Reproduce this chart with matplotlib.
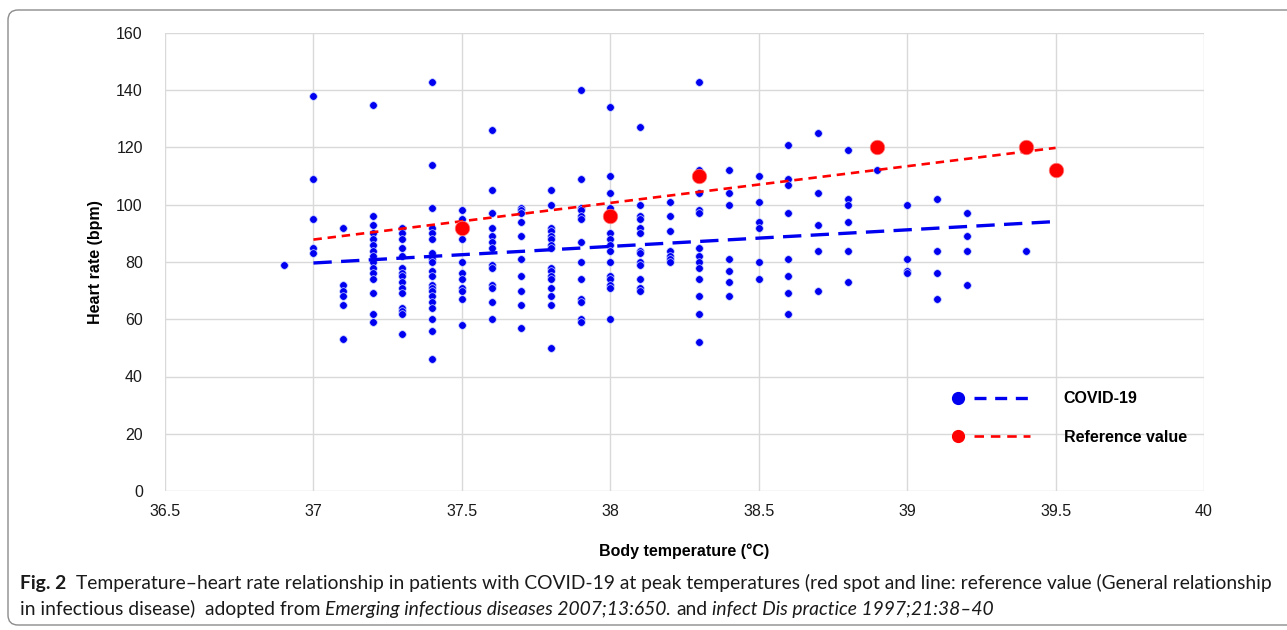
import numpy as np
import matplotlib
matplotlib.use('Agg')
import matplotlib.pyplot as plt
from matplotlib.legend_handler import HandlerBase
from matplotlib.lines import Line2D
from matplotlib.patches import FancyBboxPatch
from matplotlib.transforms import IdentityTransform


# COVID-19 patients, heart rate (bpm) at peak temperature, one list per temperature
hr_36_9 = [79]
hr_37_0 = [138, 109, 95, 85, 83]
hr_37_1 = [92, 72, 70, 68, 65, 53]
hr_37_2 = [135, 96, 93, 90, 88, 86, 84, 82, 80, 78, 76, 74, 69, 62, 59]
hr_37_3 = [92, 90, 88, 85, 82, 78, 76, 75, 73, 71, 69, 64, 63, 62, 55]
hr_37_4 = [143, 114, 99, 92, 90, 88, 83, 81, 80, 77, 75, 72, 71, 70, 68, 66, 64, 60, 56, 46]
hr_37_5 = [98, 95, 93, 88, 80, 76, 74, 71, 70, 67, 58]
hr_37_6 = [126, 105, 97, 92, 89, 87, 85, 79, 78, 72, 71, 66, 60]
hr_37_7 = [99, 98, 97, 94, 89, 81, 75, 70, 65, 57]
hr_37_8 = [105, 100, 92, 91, 89, 88, 86, 85, 78, 77, 75, 74, 71, 68, 65, 50]
hr_37_9 = [140, 109, 99, 98, 96, 95, 87, 80, 74, 67, 66, 60, 59]
hr_38_0 = [134, 110, 104, 99, 96, 90, 88, 86, 84, 80, 75, 74, 72, 71, 60]
hr_38_1 = [127, 100, 96, 95, 92, 90, 84, 83, 80, 79, 74, 71, 70]
hr_38_2 = [101, 96, 91, 84, 82, 81, 80]
hr_38_3 = [143, 112, 110, 104, 98, 97, 85, 82, 80, 78, 74, 68, 62, 52]
hr_38_4 = [112, 104, 100, 81, 77, 73, 68]
hr_38_5 = [110, 101, 94, 92, 80, 74]
hr_38_6 = [121, 109, 107, 97, 81, 75, 69, 62]
hr_38_7 = [125, 104, 93, 84, 70]
hr_38_8 = [119, 102, 100, 94, 84, 73]
hr_38_9 = [112]
hr_39_0 = [100, 81, 77, 76]
hr_39_1 = [102, 84, 76, 67]
hr_39_2 = [97, 89, 84, 72]
hr_39_4 = [84]

covid_temps = [36.9, 37.0, 37.1, 37.2, 37.3, 37.4, 37.5, 37.6, 37.7, 37.8, 37.9, 38.0,
               38.1, 38.2, 38.3, 38.4, 38.5, 38.6, 38.7, 38.8, 38.9, 39.0, 39.1, 39.2, 39.4]
covid_groups = [hr_36_9, hr_37_0, hr_37_1, hr_37_2, hr_37_3, hr_37_4, hr_37_5, hr_37_6,
                hr_37_7, hr_37_8, hr_37_9, hr_38_0, hr_38_1, hr_38_2, hr_38_3, hr_38_4,
                hr_38_5, hr_38_6, hr_38_7, hr_38_8, hr_38_9, hr_39_0, hr_39_1, hr_39_2, hr_39_4]

# reference value (general relationship in infectious disease)
ref_temp = [37.5, 38.0, 38.3, 38.9, 39.4, 39.5]
ref_hr = [92, 96, 110, 120, 120, 112]

trend_range = [37.0, 39.5]
x_ticks = [36.5, 37, 37.5, 38, 38.5, 39, 39.5, 40]
y_ticks = [0, 20, 40, 60, 80, 100, 120, 140, 160]

BLUE = '#0000f0'
RED = '#ff0000'

plt.rcParams['font.family'] = ['Liberation Sans', 'DejaVu Sans']

covid_x = np.concatenate([[t] * len(g) for t, g in zip(covid_temps, covid_groups)])
covid_y = np.concatenate(covid_groups).astype(float)


class DotDash(HandlerBase):
    # legend key: dot on the left, dashed line on the right
    def create_artists(self, legend, orig_handle, xdescent, ydescent, width, height, fontsize, trans):
        ln = orig_handle
        y = height / 2 - ydescent
        x0 = -xdescent
        dot = Line2D([x0 + 0.09 * width], [y], marker='o', ms=8.5, ls='none',
                     color=ln.get_color(), transform=trans)
        dash = Line2D([x0 + 0.3 * width, x0 + width], [y, y], color=ln.get_color(),
                      lw=ln.get_linewidth(), dashes=(3.6, 2.6), transform=trans)
        return [dot, dash]


fig = plt.figure(figsize=(12.87, 6.30), dpi=100)
ax = fig.add_axes([165 / 1287, 1 - 491 / 630, (1204 - 165) / 1287, (491 - 33) / 630])

# trend lines (linear fit)
tx = np.array(trend_range)
pc = np.polyfit(covid_x, covid_y, 1)
pr = np.polyfit(ref_temp, ref_hr, 1)
line_c, = ax.plot(tx, np.polyval(pc, tx), color=BLUE, lw=2.4, dashes=(5.5, 2.8), zorder=3)
line_r, = ax.plot(tx, np.polyval(pr, tx), color=RED, lw=1.9, dashes=(3.2, 2.2), zorder=4)

ax.scatter(covid_x, covid_y, s=30, color=BLUE, edgecolor='#c8d4ff', linewidth=0.5, zorder=2)
ax.scatter(ref_temp, ref_hr, s=110, color=RED, edgecolor='#ff8080', linewidth=0.5, zorder=5)

ax.set_xlim(36.5, 40)
ax.set_ylim(0, 160)
ax.set_xticks(x_ticks)
ax.set_xticklabels([f'{v:g}' for v in x_ticks])
ax.set_yticks(y_ticks)
ax.grid(True, color='#d9d9d9', lw=1.0)
ax.set_axisbelow(True)
for s in ax.spines.values():
    s.set_visible(False)
ax.tick_params(length=0, labelsize=11.5, colors='#1a1a1a')
ax.tick_params(axis='y', pad=16)
ax.tick_params(axis='x', pad=9)

ax.set_ylabel('Heart rate (bpm)', fontsize=11.5, fontweight='bold')
ax.yaxis.set_label_coords(-0.06, 0.5)
ax.set_xlabel('Body temperature (\u00b0C)', fontsize=11.5, fontweight='bold')
ax.xaxis.set_label_coords(0.5, -0.114)

leg = ax.legend([line_c, line_r], ['COVID-19', 'Reference value'],
                handler_map={Line2D: DotDash()},
                loc='lower left', bbox_to_anchor=(0.742, 0.07), frameon=False,
                handlelength=5.0, handletextpad=2.1, labelspacing=1.45,
                prop={'size': 11.5, 'weight': 'bold'})

# caption frame
fig.patches.append(FancyBboxPatch((8, 5), 1300, 615, boxstyle='round,pad=0,rounding_size=10',
                                  transform=IdentityTransform(), fill=False,
                                  edgecolor='#8c8c8c', lw=1.0))

# caption
renderer = fig.canvas.get_renderer()
cap_font = ['Lato', 'DejaVu Sans']
cap_size = 13.9


def text_width(s, **kw):
    t = fig.text(0, 0, s, fontsize=cap_size, family=cap_font, **kw)
    w = t.get_window_extent(renderer).width
    t.remove()
    return w


def put_line(pieces, x0, y):
    x = x0
    for txt, kw in pieces:
        lead = len(txt) - len(txt.lstrip(' '))
        x += lead * space_w
        body = txt.strip(' ')
        t = fig.text(x / 1287, 1 - y / 630, body, fontsize=cap_size, family=cap_font,
                     va='baseline', color='#1a1a1a', **kw)
        x += t.get_window_extent(renderer).width
        trail = len(txt) - len(txt.rstrip(' '))
        x += trail * space_w


space_w = text_width('a a') - text_width('aa')

put_line([('Fig. 2', {'fontweight': 'bold'}),
          ('  Temperature\u2013heart rate relationship in patients with COVID-19 at peak temperatures '
           '(red spot and line: reference value (General relationship', {})], 20, 589)
put_line([('in infectious disease)  adopted from ', {}),
          ('Emerging infectious diseases 2007;13:650.', {'style': 'italic'}),
          (' and ', {}),
          ('infect Dis practice 1997;21:38\u201340', {'style': 'italic'})], 20, 615)

fig.savefig('out.png', dpi=100)
